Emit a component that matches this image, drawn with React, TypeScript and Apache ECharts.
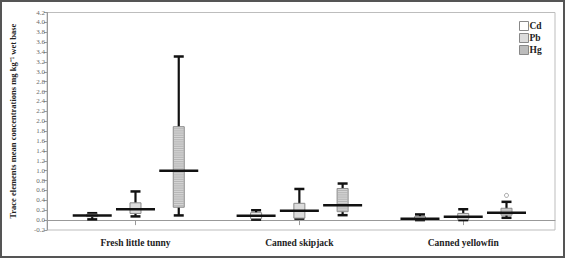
import React, { useEffect, useRef } from "react";
import * as echarts from "echarts";

const categories = ["Fresh little tunny", "Canned skipjack", "Canned yellowfin"];
const seriesNames = ["Cd", "Pb", "Hg"];
// [low, q1, median line, q3, high] per category
const cdStats = [
  [0.015, 0.07, 0.095, 0.12, 0.14],
  [0.01, 0.03, 0.087, 0.15, 0.2],
  [0.0, 0.01, 0.027, 0.07, 0.115],
];
const pbStats = [
  [0.075, 0.135, 0.22, 0.35, 0.58],
  [0.03, 0.04, 0.19, 0.34, 0.63],
  [0.0, 0.015, 0.068, 0.135, 0.22],
];
const hgStats = [
  [0.095, 0.26, 1.0, 1.89, 3.31],
  [0.1, 0.17, 0.3, 0.64, 0.74],
  [0.047, 0.1, 0.15, 0.24, 0.37],
];
// [category index, value]
const hgOutliers = [[2, 0.5]];
const yTicks = { min: -0.2, max: 4.2, interval: 0.2 };

const allStats = [cdStats, pbStats, hgStats];
const offsets = [-0.264, 0, 0.264];
const fills = ["#ffffff", "#dcdcdc", "#d4d4d4"];
const serif = "'Liberation Serif', 'Times New Roman', serif";

export default function App() {
  const ref = useRef<HTMLDivElement>(null);
  useEffect(() => {
    if (!ref.current) return;
    const chart = echarts.init(ref.current, null, { renderer: "svg" });

    const makeRender = (si: number) => (params: any, api: any) => {
      const x = api.value(0) + offsets[si];
      const pt = (v: number) => api.coord([x, v]);
      const [cx, yLow] = pt(api.value(1));
      const yQ1 = pt(api.value(2))[1];
      const yMed = pt(api.value(3))[1];
      const yQ3 = pt(api.value(4))[1];
      const yHigh = pt(api.value(5))[1];
      const boxW = 11;
      const capW = 10;
      const medW = 39;
      const children: any[] = [
        { type: "line", shape: { x1: cx, y1: yLow, x2: cx, y2: yHigh }, style: { stroke: "#111", lineWidth: 2.2 } },
        { type: "line", shape: { x1: cx - capW / 2, y1: yLow, x2: cx + capW / 2, y2: yLow }, style: { stroke: "#111", lineWidth: 2.5 } },
        { type: "line", shape: { x1: cx - capW / 2, y1: yHigh, x2: cx + capW / 2, y2: yHigh }, style: { stroke: "#111", lineWidth: 2.5 } },
        {
          type: "rect",
          shape: { x: cx - boxW / 2, y: yQ3, width: boxW, height: Math.max(yQ1 - yQ3, 1) },
          style: { fill: fills[si], stroke: "#8a8a8a", lineWidth: 1 },
        },
      ];
      if (si === 2) {
        for (let y = yQ3 + 2; y < yQ1 - 0.5; y += 2.2) {
          children.push({
            type: "line",
            shape: { x1: cx - boxW / 2 + 0.5, y1: y, x2: cx + boxW / 2 - 0.5, y2: y },
            style: { stroke: "#a8a8a8", lineWidth: 0.7 },
          });
        }
      }
      children.push({
        type: "line",
        shape: { x1: cx - medW / 2, y1: yMed, x2: cx + medW / 2, y2: yMed },
        style: { stroke: "#111", lineWidth: 2.5 },
      });
      return { type: "group", children };
    };

    const series: any[] = seriesNames.map((name, si) => ({
      name,
      type: "custom",
      renderItem: makeRender(si),
      itemStyle: { color: fills[si], borderColor: "#888" },
      encode: { x: 0, y: [1, 2, 3, 4, 5] },
      data: allStats[si].map((s, ci) => [ci + 1, ...s]),
      z: 3,
    }));
    series.push({
      name: "HgOutlier",
      type: "scatter",
      symbol: "circle",
      symbolSize: 4,
      itemStyle: { color: "#fff", borderColor: "#888", borderWidth: 1 },
      data: hgOutliers.map(([ci, v]) => [ci + 1 + offsets[2], v]),
      z: 4,
    });

    chart.setOption({
      animation: false,
      graphic: [
        {
          type: "rect",
          shape: { x: 1, y: 1, width: 563, height: 256 },
          style: { fill: "none", stroke: "#555", lineWidth: 2 },
          silent: true,
        },
      ],
      grid: {
        left: 42.7,
        right: 10,
        top: 12.5,
        bottom: 28,
        show: true,
        borderColor: "#bdbdbd",
        borderWidth: 1,
      },
      legend: {
        orient: "vertical",
        left: 514,
        top: 16,
        itemWidth: 9,
        itemHeight: 9,
        itemGap: 2,
        icon: "rect",
        textStyle: { fontFamily: serif, fontWeight: "bold", fontSize: 9.5, color: "#222", padding: [0, 0, 0, -4] },
        data: [
          { name: "Cd", itemStyle: { color: "#fff", borderColor: "#888", borderWidth: 1 } },
          { name: "Pb", itemStyle: { color: "#dcdcdc", borderColor: "#888", borderWidth: 1 } },
          { name: "Hg", itemStyle: { color: "#bcbcbc", borderColor: "#888", borderWidth: 1 } },
        ],
      },
      xAxis: {
        type: "value",
        min: 0.46,
        max: 3.56,
        splitLine: { show: false },
        axisLine: { show: true, lineStyle: { color: "#999" } },
        axisTick: { show: true, customValues: [1, 2, 3], length: 5, lineStyle: { color: "#999" } },
        axisLabel: {
          customValues: [1, 2, 3],
          formatter: (v: number) => categories[Math.round(v) - 1] ?? "",
          fontFamily: serif,
          fontWeight: "bold",
          fontSize: 9.5,
          color: "#222",
          margin: 8,
        },
      },
      yAxis: {
        type: "value",
        min: yTicks.min,
        max: yTicks.max,
        interval: yTicks.interval,
        name: "Trace elements mean concentrations mg kg\u207B\u00B9 wet base",
        nameLocation: "middle",
        nameGap: 30,
        nameTextStyle: { fontFamily: serif, fontWeight: "bold", fontSize: 8.5, color: "#222" },
        splitLine: { show: false },
        axisLine: { show: true, lineStyle: { color: "#999" } },
        axisTick: { show: true, length: 3, lineStyle: { color: "#999" } },
        axisLabel: {
          formatter: (v: number) => (Math.abs(v) < 1e-9 ? "0.0" : v.toFixed(1)),
          fontFamily: serif,
          fontSize: 7,
          color: "#6a6a6a",
          margin: 2,
        },
      },
      series,
    });
    return () => chart.dispose();
  }, []);
  return (
    <div style={{ position: "fixed", left: 0, top: 0, width: 565, height: 258, background: "#fff" }}>
      <div ref={ref} style={{ width: 565, height: 258 }} />
    </div>
  );
}
